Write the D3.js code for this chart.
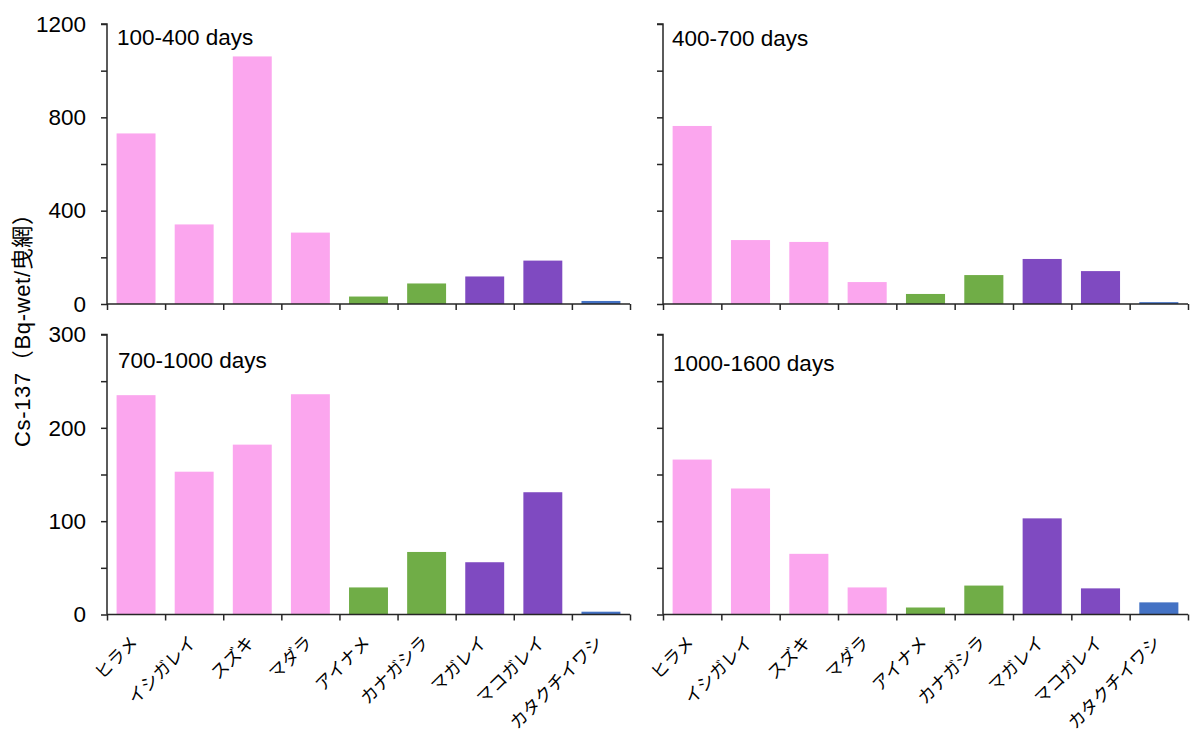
<!DOCTYPE html>
<html>
<head>
<meta charset="utf-8">
<script src="https://cdn.jsdelivr.net/npm/d3@7"></script>
<style>
  html, body { margin: 0; padding: 0; background: #ffffff; }
  svg { display: block; }
</style>
</head>
<body>
<svg id="chart" width="1190" height="729"></svg>
<script>
// ---------------- data ----------------
const categories = ["ヒラメ", "イシガレイ", "スズキ", "マダラ", "アイナメ", "カナガシラ", "マガレイ", "マコガレイ", "カタクチイワシ"];
const categoryGroup = ["pink", "pink", "pink", "pink", "green", "green", "purple", "purple", "blue"];
const panelTitles = ["100-400 days", "400-700 days", "700-1000 days", "1000-1600 days"];
const values100to400 = [731, 341, 1061, 306, 32, 88, 118, 186, 13];
const values400to700 = [763, 274, 266, 94, 43, 124, 193, 141, 8];
const values700to1000 = [235, 153, 182, 236, 29, 67, 56, 131, 3];
const values1000to1600 = [166, 135, 65, 29, 7.5, 31, 103, 28, 13];
const yTicksTop = [0, 200, 400, 600, 800, 1000, 1200];
const yLabelsTop = [0, 400, 800, 1200];
const yTicksBottom = [0, 50, 100, 150, 200, 250, 300];
const yLabelsBottom = [0, 100, 200, 300];
const yAxisTitle = "Cs-137（Bq-wet/曳網）";

// ---------------- styles / layout ----------------
const color = d3.scaleOrdinal()
  .domain(["pink", "green", "purple", "blue"])
  .range(["#FBA6EE", "#70AD47", "#7F4AC1", "#4472C4"]);
const axisColor = "#262626";
const latinFont = "'Liberation Sans', Arial, sans-serif";
const cjkFont = "'Noto Sans CJK JP', 'Noto Sans CJK SC', sans-serif";

const svg = d3.select("#chart");

const panels = [
  { values: values100to400, title: panelTitles[0], x0: 107, x1: 630, yTop: 24, yBase: 304, max: 1200, ticks: yTicksTop, labels: yLabelsTop, showY: true, showX: false, tx: 117, ty: 45 },
  { values: values400to700, title: panelTitles[1], x0: 663, x1: 1188, yTop: 24, yBase: 304, max: 1200, ticks: yTicksTop, labels: yLabelsTop, showY: false, showX: false, tx: 672, ty: 46 },
  { values: values700to1000, title: panelTitles[2], x0: 107, x1: 630, yTop: 334.5, yBase: 614.5, max: 300, ticks: yTicksBottom, labels: yLabelsBottom, showY: true, showX: true, tx: 118, ty: 368 },
  { values: values1000to1600, title: panelTitles[3], x0: 663, x1: 1188, yTop: 334.5, yBase: 614.5, max: 300, ticks: yTicksBottom, labels: yLabelsBottom, showY: false, showX: true, tx: 673, ty: 371 }
];

panels.forEach(p => {
  const x = d3.scaleBand()
    .domain(categories)
    .range([p.x0, p.x1])
    .paddingInner(0.33)
    .paddingOuter(0.165);
  const xEdge = d3.scaleLinear().domain([0, categories.length]).range([p.x0, p.x1]);
  const y = d3.scaleLinear().domain([0, p.max]).range([p.yBase, p.yTop]);

  const g = svg.append("g");

  // bars
  g.selectAll("rect.bar")
    .data(p.values)
    .join("rect")
    .attr("class", "bar")
    .attr("x", (d, i) => x(categories[i]))
    .attr("width", x.bandwidth())
    .attr("y", d => y(d))
    .attr("height", d => y(0) - y(d))
    .attr("fill", (d, i) => color(categoryGroup[i]));

  // y axis
  const yAxis = d3.axisLeft(y)
    .tickValues(p.ticks)
    .tickSize(6)
    .tickPadding(15)
    .tickFormat(d => (p.showY && p.labels.includes(d)) ? String(d) : "");
  const ya = g.append("g")
    .attr("transform", `translate(${p.x0},0)`)
    .call(yAxis);
  ya.select(".domain").attr("stroke", axisColor).attr("stroke-width", 1.5).attr("d", `M-6,${p.yTop}H0V${p.yBase}`);
  ya.selectAll(".tick line").attr("stroke", axisColor).attr("stroke-width", 1.5);
  ya.selectAll(".tick text")
    .attr("fill", "#000")
    .style("font-family", latinFont)
    .style("font-size", "22.5px");

  // x axis ticks at band edges
  const xAxis = d3.axisBottom(xEdge)
    .tickValues(d3.range(0, categories.length + 1))
    .tickSize(6)
    .tickFormat("");
  const xa = g.append("g")
    .attr("transform", `translate(0,${p.yBase})`)
    .call(xAxis);
  xa.select(".domain").attr("stroke", axisColor).attr("stroke-width", 1.5).attr("d", `M${p.x0},0H${p.x1}`);
  xa.selectAll(".tick line").attr("stroke", axisColor).attr("stroke-width", 1.5);

  // category labels
  if (p.showX) {
    const labAxis = d3.axisBottom(x).tickSize(0).tickPadding(0);
    const la = g.append("g")
      .attr("transform", `translate(0,${p.yBase})`)
      .call(labAxis);
    la.select(".domain").remove();
    la.selectAll(".tick text")
      .attr("x", 0).attr("y", 0).attr("dy", 0)
      .attr("transform", "translate(3,29) rotate(-45)")
      .attr("fill", "#000")
      .style("text-anchor", "end")
      .style("font-family", cjkFont)
      .style("font-size", "17.5px");
  }

  // panel title
  g.append("text")
    .attr("x", p.tx)
    .attr("y", p.ty)
    .attr("fill", "#000")
    .style("font-family", latinFont)
    .style("font-size", "22.5px")
    .text(p.title);
});

// y axis title
svg.append("text")
  .attr("transform", "translate(30,325) rotate(-90)")
  .attr("text-anchor", "middle")
  .attr("fill", "#000")
  .attr("textLength", 244)
  .attr("lengthAdjust", "spacing")
  .style("font-family", "'Liberation Sans', 'Noto Sans CJK JP', sans-serif")
  .style("font-size", "22px")
  .text(yAxisTitle);
</script>
</body>
</html>
